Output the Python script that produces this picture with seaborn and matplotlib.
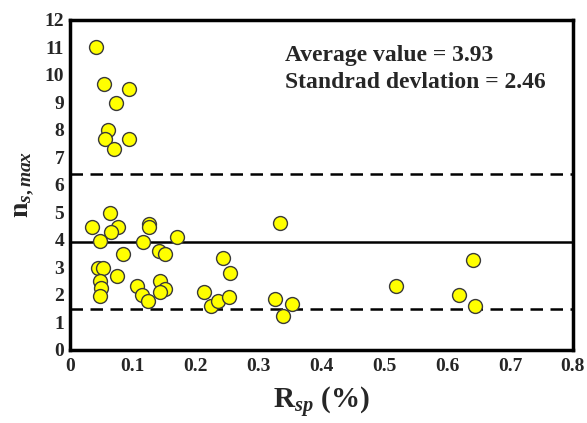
import numpy as np
import pandas as pd
import matplotlib
matplotlib.use("Agg")
import matplotlib.pyplot as plt
import seaborn as sns

# ── Data ────────────────────────────────────────────────────────────────────
r_sp = [0.041, 0.055, 0.094, 0.073, 0.061, 0.056, 0.094, 0.070,
        0.064, 0.035, 0.076, 0.066, 0.126, 0.126, 0.048, 0.117,
        0.171, 0.142, 0.152, 0.085, 0.044, 0.052, 0.048, 0.049,
        0.048, 0.075, 0.107, 0.114, 0.125, 0.143, 0.152, 0.144,
        0.213, 0.225, 0.236, 0.253, 0.244, 0.254, 0.334, 0.326,
        0.353, 0.339, 0.519, 0.641, 0.619, 0.644]
n_smax = [11.0, 9.66, 9.48, 8.97, 8.0, 7.66, 7.66, 7.32,
          4.98, 4.48, 4.48, 4.29, 4.56, 4.48, 3.97, 3.92,
          4.10, 3.61, 3.49, 3.49, 2.99, 2.99, 2.52, 2.25,
          1.94, 2.67, 2.33, 2.0, 1.79, 2.5, 2.21, 2.11,
          2.12, 1.58, 1.79, 1.92, 3.35, 2.81, 4.61, 1.84,
          1.66, 1.24, 2.31, 3.27, 1.99, 1.58]
mean_val = 3.93
std_val = 2.46
x_ticks = [0, 0.1, 0.2, 0.3, 0.4, 0.5, 0.6, 0.7, 0.8]
x_tick_labels = ["0", "0.1", "0.2", "0.3", "0.4", "0.5", "0.6", "0.7", "0.8"]
y_ticks = list(range(0, 13))

df = pd.DataFrame({"r_sp": r_sp, "n_smax": n_smax})

# ── Style ───────────────────────────────────────────────────────────────────
sns.set_style("white")
plt.rcParams["font.family"] = ["Liberation Serif", "DejaVu Serif"]
plt.rcParams["mathtext.fontset"] = "custom"
plt.rcParams["mathtext.rm"] = "Liberation Serif:bold"
plt.rcParams["mathtext.it"] = "Liberation Serif:italic:bold"
plt.rcParams["mathtext.bf"] = "Liberation Serif:bold"

fig = plt.figure(figsize=(5.87, 4.23), dpi=100)
ax = fig.add_axes([0.119, 0.173, 0.857, 0.780])

# reference lines: mean and mean ± std
ax.axhline(mean_val, color="black", lw=1.8, zorder=1)
ax.axhline(mean_val + std_val, color="black", lw=1.8, ls=(0, (5, 3)), zorder=1)
ax.axhline(mean_val - std_val, color="black", lw=1.8, ls=(0, (5, 3)), zorder=1)

sns.scatterplot(data=df, x="r_sp", y="n_smax", ax=ax, s=100,
                color="#ffff00", edgecolor="#3a3a3a", linewidth=1.0,
                zorder=3, legend=False)

ax.set_xlim(0, 0.8)
ax.set_ylim(0, 12)
ax.set_xticks(x_ticks)
ax.set_xticklabels(x_tick_labels)
ax.set_yticks(y_ticks)
ax.tick_params(length=0, labelsize=14)
ax.tick_params(axis="y", pad=4)
ax.tick_params(axis="x", pad=6)
for lab in ax.get_xticklabels() + ax.get_yticklabels():
    lab.set_fontweight("bold")

for sp in ax.spines.values():
    sp.set_visible(True)
    sp.set_color("black")
    sp.set_linewidth(2.5)

ax.set_xlabel(r"R$_{sp}$ (%)", fontsize=21, fontweight="bold", labelpad=7)
ax.set_ylabel(r"n$_{s,max}$", fontsize=20, fontweight="bold", labelpad=6)

ax.text(0.342, 10.72, f"Average value = {mean_val:.2f}", fontsize=17,
        fontweight="bold", va="center")
ax.text(0.342, 9.72, f"Standrad devlation = {std_val:.2f}", fontsize=17,
        fontweight="bold", va="center")

fig.savefig("out.png", dpi=100)
